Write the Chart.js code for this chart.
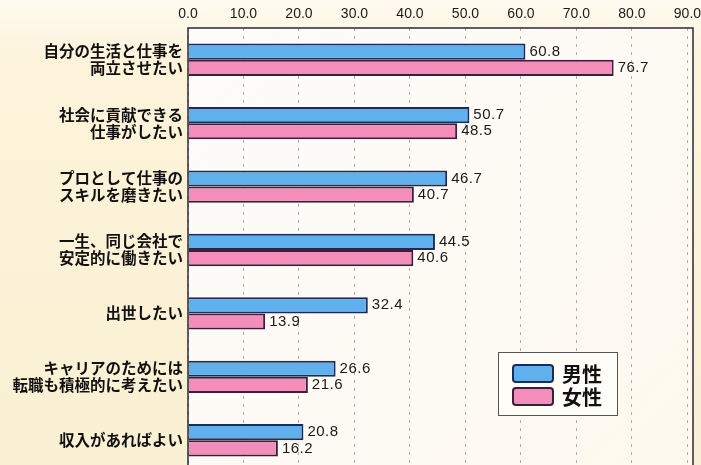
<!DOCTYPE html>
<html lang="ja">
<head>
<meta charset="utf-8">
<script src="https://cdn.jsdelivr.net/npm/chart.js@4/dist/chart.umd.min.js"></script>
<style>
  html, body { margin: 0; padding: 0; overflow: hidden; background: #fbf3da; }
  canvas { display: block; }
</style>
</head>
<body>
<canvas id="chart" width="701" height="480"></canvas>
<script>
var categories = [
  ["自分の生活と仕事を", "両立させたい"],
  ["社会に貢献できる", "仕事がしたい"],
  ["プロとして仕事の", "スキルを磨きたい"],
  ["一生、同じ会社で", "安定的に働きたい"],
  ["出世したい"],
  ["キャリアのためには", "転職も積極的に考えたい"],
  ["収入があればよい"]
];
var maleValues = [60.8, 50.7, 46.7, 44.5, 32.4, 26.6, 20.8];
var femaleValues = [76.7, 48.5, 40.7, 40.6, 13.9, 21.6, 16.2];
var seriesNames = ["男性", "女性"];

var JP_FONT = "'Noto Sans CJK JP', 'Noto Sans', sans-serif";
var NUM_FONT = "'Liberation Sans', Arial, sans-serif";

// backgrounds: cream page, lighter plot area, dark frame
var backdrop = {
  id: "backdrop",
  beforeDraw: function(chart) {
    var ctx = chart.ctx, a = chart.chartArea;
    ctx.save();
    var g = ctx.createLinearGradient(0, 0, 0, chart.height);
    g.addColorStop(0, "#fffaf0");
    g.addColorStop(0.12, "#fcf3da");
    g.addColorStop(1, "#faf0d3");
    ctx.fillStyle = g;
    ctx.fillRect(0, 0, chart.width, chart.height);
    var p = ctx.createLinearGradient(a.left, a.top, a.right, a.bottom);
    p.addColorStop(0, "#fdfcfb");
    p.addColorStop(1, "#fdf9ee");
    ctx.fillStyle = p;
    ctx.fillRect(a.left, a.top, a.right - a.left, a.bottom - a.top);
    ctx.restore();
  },
  afterDraw: function(chart) {
    var ctx = chart.ctx, a = chart.chartArea;
    ctx.save();
    ctx.strokeStyle = "#2a2a3a";
    ctx.lineWidth = 1.5;
    ctx.strokeRect(a.left, a.top, a.right - a.left, a.bottom - a.top);
    ctx.restore();
  }
};

// value labels to the right of each bar
var valueLabels = {
  id: "valueLabels",
  afterDatasetsDraw: function(chart) {
    var ctx = chart.ctx;
    ctx.save();
    ctx.font = "15px " + NUM_FONT;
    ctx.letterSpacing = "0.5px";
    ctx.fillStyle = "#1a1a1a";
    ctx.textBaseline = "middle";
    chart.data.datasets.forEach(function(ds, i) {
      chart.getDatasetMeta(i).data.forEach(function(bar, j) {
        ctx.fillText(ds.data[j].toFixed(1), bar.x + 4, bar.y);
      });
    });
    ctx.restore();
  }
};

// boxed legend inside the plot, lower right
var boxLegend = {
  id: "boxLegend",
  afterDraw: function(chart) {
    var ctx = chart.ctx, a = chart.chartArea;
    var x = a.left + 310, y = a.top + 324, w = 119, h = 63;
    ctx.save();
    ctx.fillStyle = "#fefdf8";
    ctx.fillRect(x, y, w, h);
    ctx.strokeStyle = "#555";
    ctx.lineWidth = 1;
    ctx.strokeRect(x + 0.5, y + 0.5, w, h);
    chart.data.datasets.forEach(function(ds, i) {
      var sy = y + 13 + i * 23;
      ctx.fillStyle = ds.backgroundColor;
      ctx.strokeStyle = ds.borderColor;
      ctx.lineWidth = 2;
      ctx.beginPath();
      ctx.roundRect(x + 15, sy, 40, 17, 3);
      ctx.fill();
      ctx.stroke();
      ctx.fillStyle = "#111";
      ctx.font = "bold 20px " + JP_FONT;
      ctx.textBaseline = "middle";
      ctx.fillText(ds.label, x + 64, sy + 9);
    });
    ctx.restore();
  }
};

new Chart(document.getElementById("chart").getContext("2d"), {
  type: "bar",
  data: {
    labels: categories,
    datasets: [
      {
        label: seriesNames[0],
        data: maleValues,
        backgroundColor: "#5fb0ec",
        borderColor: "#1c2c55",
        borderWidth: 2,
        categoryPercentage: 0.51,
        barPercentage: 1.0
      },
      {
        label: seriesNames[1],
        data: femaleValues,
        backgroundColor: "#f58dba",
        borderColor: "#3a1f3a",
        borderWidth: 2,
        categoryPercentage: 0.51,
        barPercentage: 1.0
      }
    ]
  },
  options: {
    indexAxis: "y",
    responsive: false,
    animation: false,
    // the plot runs on past the lower edge of the window
    layout: { padding: { right: 8, bottom: 8, left: 0, top: 0 } },
    plugins: {
      legend: { display: false },
      tooltip: { enabled: false }
    },
    scales: {
      x: {
        position: "top",
        min: 0,
        max: 91,
        ticks: {
          stepSize: 10,
          includeBounds: false,
          padding: 5,
          color: "#1a1a1a",
          font: { family: NUM_FONT, size: 14 },
          callback: function(v) { return Number(v).toFixed(1); }
        },
        afterFit: function(scale) {
          scale.height = 28;
          scale.paddingRight = 0;
        },
        grid: {
          color: "#b0b0b0",
          lineWidth: 1,
          drawTicks: false
        },
        border: { display: false, dash: [3, 5] }
      },
      y: {
        ticks: {
          padding: 5,
          color: "#111",
          font: { family: JP_FONT, size: 15.5, weight: "bold", lineHeight: 1.1 }
        },
        afterFit: function(scale) {
          scale.width = 188;
          scale.paddingTop = 0;
          scale.paddingBottom = 0;
        },
        grid: { display: false, drawTicks: false },
        border: { display: false }
      }
    }
  },
  plugins: [backdrop, valueLabels, boxLegend]
});
</script>
</body>
</html>
